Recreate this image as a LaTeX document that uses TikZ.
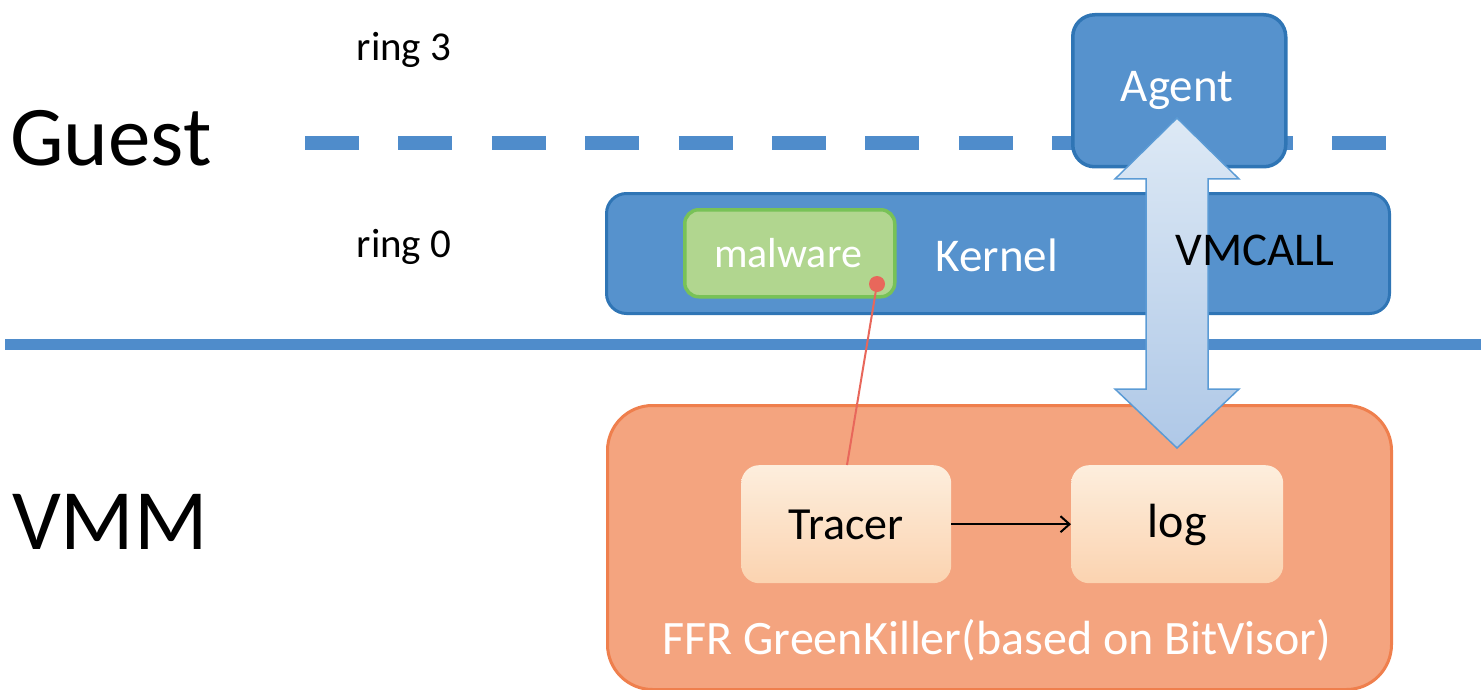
\documentclass[tikz,border=0pt]{standalone}
\usepackage{fontspec}
\setmainfont{Carlito}
\usetikzlibrary{calc,arrows.meta}
\definecolor{guestblue}{HTML}{5692CD}
\definecolor{guestedge}{HTML}{2F75B5}
\definecolor{lineblue}{HTML}{4F8CCB}
\definecolor{malfill}{HTML}{B1D68F}
\definecolor{maledge}{HTML}{78C257}
\definecolor{vmmfill}{HTML}{F4A47F}
\definecolor{vmmedge}{HTML}{EF7F4D}
\definecolor{modtop}{HTML}{FDEEDD}
\definecolor{modbot}{HTML}{FBD3B0}
\definecolor{arrtop}{HTML}{DDE9F5}
\definecolor{arrbot}{HTML}{AFC8E7}
\definecolor{arredge}{HTML}{5B9BD5}
\definecolor{hookred}{HTML}{E8675B}
\newcommand{\fs}[1]{\fontsize{#1}{#1}\selectfont}
\tikzset{
  bluebox/.style={draw=guestedge, line width=3.5pt, fill=guestblue, rounded corners=22pt, text=white},
  greenbox/.style={draw=maledge, line width=3.5pt, fill=malfill, rounded corners=14pt, text=white},
  vmmbox/.style={draw=vmmedge, line width=3pt, fill=vmmfill, rounded corners=45pt},
  modbox/.style={draw=none, top color=modtop, bottom color=modbot, rounded corners=18pt, text=black},
  label/.style={text=black, inner sep=0pt},
}
\begin{document}
\begin{tikzpicture}[x=1pt, y=-1pt]
\useasboundingbox (0,0) rectangle (1481,690);

% privilege boundaries
\draw[lineblue, line width=14pt, dash pattern=on 54pt off 39.4pt] (305,143) -- (1390,143);
\draw[lineblue, line width=11pt] (5,344) -- (1481,344);

% side labels
\node[label, font=\fs{85}] (guest) at (111,138) {Guest};
\node[label, font=\fs{86}] (vmm) at (110,522) {VMM};
\node[label, font=\fs{41}] (ring3) at (404,50) {ring 3};
\node[label, font=\fs{41}] (ring0) at (404,247) {ring 0};

% guest side
\node[bluebox, minimum width=213pt, minimum height=152pt, anchor=north west] (agent) at (1071,13) {};
\node[text=white, font=\fs{47}] (agenttxt) at (1177,90) {Agent};
\node[bluebox, rounded corners=20pt, line width=3pt, minimum width=783pt, minimum height=120pt, anchor=north west] (kernel) at (605,192) {};
\node[text=white, font=\fs{47}] (kerneltxt) at (997,255) {Kernel};
\node[greenbox, minimum width=210pt, minimum height=87pt, anchor=north west] (malware) at (683,208) {};
\node[text=white, font=\fs{42}] (maltxt) at (788,253) {malware};

% hypervisor side
\node[vmmbox, minimum width=784pt, minimum height=284pt, anchor=north west] (ffr) at (606,404) {};
\node[text=white, font=\fs{48}] (ffrtxt) at (997,640) {FFR GreenKiller(based on BitVisor)};
\node[modbox, minimum width=210pt, minimum height=118pt, anchor=north west] (tracer) at (741,465) {};
\node[font=\fs{46}] at ($(tracer.center)+(0,1)$) {Tracer};
\node[modbox, minimum width=212pt, minimum height=118pt, anchor=north west] (log) at (1071,465) {};
\node[font=\fs{48}] at ($(log.center)+(0,1)$) {log};

% trace output into the log
\draw[black, line width=2pt, -{Straight Barb[length=9pt,width=16pt]}] (tracer.east) -- (log.west);

% VMCALL channel between agent and log
\coordinate (vtop) at (1177,118);
\coordinate (vbot) at (1177,448);
\draw[arredge, line width=1.5pt, top color=arrtop, bottom color=arrbot]
  (vtop) -- ($(vtop)+(62,61)$) -- ($(vtop)+(31,61)$) -- ($(vbot)+(31,-59)$) -- ($(vbot)+(62,-59)$)
  -- (vbot) -- ($(vbot)+(-62,-59)$) -- ($(vbot)+(-31,-59)$) -- ($(vtop)+(-31,61)$) -- ($(vtop)+(-62,61)$) -- cycle;
\node[text=black, font=\fs{47}] (vmcall) at (1255,250) {VMCALL};

% tracer hooks the malware
\coordinate (hook) at (877,284);
\draw[hookred, line width=2pt] (hook) -- ($(tracer.north west)+(106,0)$);
\fill[hookred] (hook) circle (8pt);
\end{tikzpicture}
\end{document}
